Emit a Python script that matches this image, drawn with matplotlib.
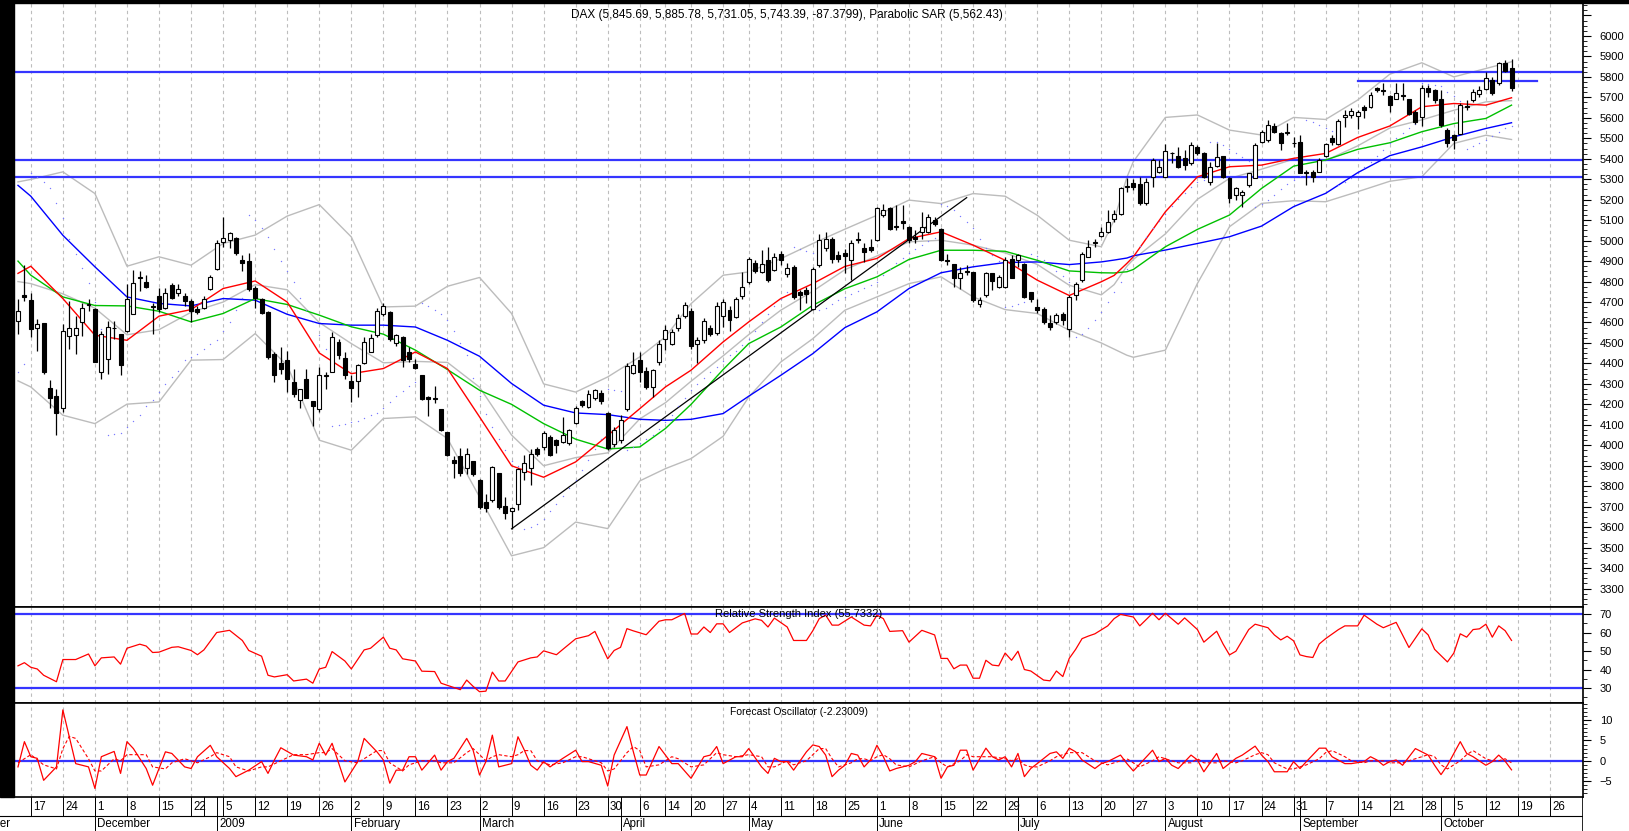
import matplotlib
matplotlib.use("Agg")
import matplotlib.pyplot as plt
from matplotlib.patches import Rectangle
from matplotlib.ticker import FixedLocator, MultipleLocator, FuncFormatter
import numpy as np
import pandas as pd

plt.rcParams["font.family"] = ["Liberation Sans", "DejaVu Sans"]

W, H = 1629, 831

# Xetra trading calendar, holidays are skipped on the chart
HOLIDAYS = ["2008-12-24", "2008-12-25", "2008-12-26", "2008-12-31", "2009-01-01",
            "2009-04-10", "2009-04-13", "2009-05-01"]

# daily DAX candles, 13 Nov 2008 .. 16 Oct 2009 (one row per week)
opens = [
    4608, 4733,
    4710, 4571, 4597, 4281, 4240,
    4181, 4536, 4539, 4600, 4684,
    4665, 4358, 4423, 4575, 4544,
    4560, 4640, 4815, 4797, 4683,
    4729, 4673, 4781, 4742, 4729,
    4705, 4665, 4673, 4765, 4862,
    4991, 5004, 5012, 4907, 4899,
    4770, 4713, 4649, 4447, 4403,
    4415, 4310, 4221, 4326, 4216,
    4177, 4339, 4358, 4506, 4426,
    4313, 4313, 4403, 4455, 4539,
    4640, 4649, 4500, 4527, 4458,
    4395, 4342, 4237, 4232, 4177,
    4064, 3930, 3946, 3890, 3922,
    3830, 3724, 3732, 3865, 3702,
    3680, 3715, 3870, 3891, 3983,
    3992, 4041, 4025, 4017, 4009,
    4110, 4217, 4185, 4229, 4256,
    4160, 4008, 4025, 4179, 4354,
    4415, 4362, 4285, 4407,
    4517, 4497, 4575, 4631,
    4657, 4497, 4513, 4575, 4549,
    4631, 4660, 4627, 4728,
    4798, 4891, 4847, 4904, 4855,
    4935, 4839, 4872, 4750, 4758,
    4668, 4880, 4962, 5010, 4929,
    4942, 4904, 5005, 4966, 4970,
    5002, 5124, 5157, 5070, 5097,
    5067, 5018, 5043, 5043, 5103,
    5059, 4906, 4888, 4818, 4850,
    4847, 4690, 4733, 4843, 4774,
    4774, 4908, 4904, 4888, 4750,
    4676, 4668, 4598, 4603, 4640,
    4570, 4733, 4807, 4921, 4990,
    5023, 5043, 5108, 5132, 5262,
    5283, 5276, 5182, 5312, 5337,
    5312, 5430, 5413, 5402, 5377,
    5459, 5426, 5288, 5364, 5413,
    5304, 5223, 5223, 5271, 5304,
    5483, 5491, 5560, 5524, 5525,
    5478, 5483, 5335, 5337, 5337,
    5413, 5500, 5472, 5605, 5614,
    5609, 5651, 5654, 5744, 5738,
    5705, 5694, 5713, 5694, 5629,
    5605, 5748, 5735, 5690, 5540,
    5515, 5523, 5660, 5686, 5716,
    5743, 5784, 5768, 5866, 5845.69,
]
highs = [
    4713, 4883,
    4742, 4616, 4597, 4318, 4277,
    4592, 4705, 4632, 4697, 4713,
    4673, 4560, 4608, 4608, 4544,
    4786, 4858, 4850, 4834, 4697,
    4770, 4770, 4794, 4786, 4745,
    4713, 4680, 4729, 4830, 5004,
    5117, 5044, 5020, 4931, 4939,
    4778, 4721, 4657, 4455, 4479,
    4463, 4374, 4277, 4374, 4216,
    4382, 4358, 4552, 4519, 4455,
    4342, 4398, 4527, 4544, 4673,
    4697, 4657, 4544, 4536, 4479,
    4423, 4342, 4242, 4290, 4177,
    4064, 3946, 3987, 3987, 3922,
    3834, 3764, 3898, 3865, 3748,
    3699, 3891, 3952, 3984, 3992,
    4069, 4049, 4033, 4139, 4082,
    4191, 4220, 4269, 4277, 4270,
    4165, 4090, 4150, 4400, 4457,
    4457, 4383, 4375, 4513,
    4587, 4570, 4640, 4700,
    4670, 4530, 4620, 4590, 4700,
    4717, 4680, 4725, 4847,
    4920, 4905, 4953, 4969, 4940,
    4950, 4890, 4880, 4758, 4775,
    4872, 5030, 5040, 5020, 4950,
    4960, 5002, 5043, 4986, 5010,
    5165, 5181, 5162, 5173, 5173,
    5070, 5051, 5141, 5130, 5116,
    5060, 4937, 4888, 4872, 4880,
    4847, 4725, 4848, 4843, 4830,
    4921, 4929, 4937, 4890, 4750,
    4717, 4676, 4636, 4644, 4650,
    4733, 4798, 4945, 5002, 5010,
    5067, 5149, 5149, 5263, 5304,
    5300, 5312, 5304, 5402, 5394,
    5472, 5434, 5459, 5443, 5483,
    5467, 5434, 5385, 5475, 5413,
    5312, 5263, 5247, 5329, 5475,
    5540, 5589, 5573, 5532, 5573,
    5508, 5516, 5345, 5345, 5402,
    5475, 5516, 5592, 5638, 5646,
    5638, 5662, 5727, 5752, 5768,
    5711, 5768, 5768, 5694, 5637,
    5760, 5760, 5743, 5735, 5548,
    5523, 5670, 5686, 5743, 5755,
    5825, 5800, 5874, 5882, 5885.78,
]
lows = [
    4544, 4705,
    4528, 4463, 4350, 4180, 4051,
    4164, 4471, 4447, 4536, 4657,
    4406, 4326, 4350, 4520, 4342,
    4552, 4640, 4753, 4770, 4544,
    4649, 4665, 4713, 4729, 4681,
    4600, 4640, 4665, 4760, 4858,
    4968, 4963, 4931, 4850, 4753,
    4673, 4640, 4423, 4310, 4350,
    4261, 4237, 4180, 4229, 4092,
    4164, 4277, 4358, 4423, 4326,
    4213, 4237, 4398, 4455, 4527,
    4632, 4511, 4487, 4382, 4406,
    4374, 4221, 4145, 4205, 4068,
    3946, 3842, 3850, 3858, 3850,
    3690, 3675, 3724, 3691, 3642,
    3590, 3686, 3829, 3805, 3947,
    3976, 3947, 3960, 4009, 4000,
    4106, 4188, 4180, 4220, 4204,
    3976, 3990, 4010, 4170, 4350,
    4310, 4277, 4236, 4390,
    4465, 4490, 4560, 4620,
    4470, 4400, 4500, 4535, 4540,
    4578, 4560, 4620, 4717,
    4790, 4840, 4840, 4800, 4850,
    4880, 4820, 4715, 4660, 4693,
    4660, 4870, 4950, 4890, 4895,
    4840, 4807, 4986, 4896, 4945,
    4999, 5116, 5051, 5051, 5059,
    4986, 4986, 5010, 5035, 5070,
    4900, 4880, 4774, 4766, 4831,
    4701, 4676, 4725, 4758, 4770,
    4770, 4815, 4872, 4720, 4701,
    4644, 4595, 4562, 4595, 4590,
    4530, 4709, 4798, 4921, 4970,
    5018, 5035, 5092, 5124, 5238,
    5245, 5174, 5174, 5263, 5329,
    5312, 5377, 5353, 5345, 5370,
    5418, 5304, 5272, 5361, 5304,
    5182, 5198, 5166, 5263, 5304,
    5475, 5483, 5524, 5443, 5516,
    5459, 5329, 5272, 5288, 5337,
    5410, 5467, 5467, 5557, 5597,
    5544, 5597, 5646, 5727, 5711,
    5630, 5690, 5686, 5613, 5572,
    5559, 5703, 5670, 5556, 5458,
    5450, 5523, 5637, 5678, 5703,
    5735, 5711, 5760, 5825, 5731.05,
]
closes = [
    4657, 4725,
    4568, 4592, 4358, 4232, 4156,
    4560, 4571, 4571, 4673, 4688,
    4406, 4544, 4579, 4571, 4394,
    4716, 4791, 4820, 4774, 4677,
    4665, 4742, 4721, 4765, 4705,
    4657, 4650, 4713, 4823, 4988,
    5012, 5036, 4942, 4891, 4762,
    4721, 4645, 4431, 4342, 4374,
    4326, 4253, 4277, 4229, 4193,
    4342, 4340, 4527, 4439, 4345,
    4281, 4390, 4506, 4523, 4657,
    4681, 4519, 4539, 4415, 4423,
    4377, 4226, 4226, 4226, 4076,
    3955, 3914, 3866, 3958, 3858,
    3700, 3696, 3895, 3699, 3667,
    3696, 3882, 3914, 3956, 3957,
    4061, 3952, 4000, 4049, 4077,
    4180, 4196, 4250, 4269, 4215,
    3989, 4074, 4122, 4386, 4391,
    4359, 4285, 4367, 4497,
    4565, 4554, 4624, 4684,
    4484, 4513, 4606, 4546, 4680,
    4701, 4611, 4717, 4774,
    4908, 4852, 4888, 4807, 4920,
    4905, 4864, 4725, 4733, 4741,
    4859, 5005, 5010, 4912, 4912,
    4926, 4986, 5010, 4945, 4953,
    5157, 5152, 5059, 5068, 5087,
    5005, 5010, 5067, 5116, 5080,
    4904, 4902, 4815, 4843, 4846,
    4709, 4710, 4843, 4803, 4823,
    4904, 4815, 4929, 4725, 4717,
    4660, 4603, 4579, 4636, 4612,
    4725, 4790, 4937, 4970, 4994,
    5043, 5092, 5128, 5255, 5268,
    5263, 5182, 5288, 5394, 5361,
    5439, 5426, 5361, 5369, 5467,
    5430, 5312, 5358, 5410, 5312,
    5206, 5255, 5239, 5329, 5467,
    5532, 5565, 5532, 5475, 5529,
    5476, 5332, 5329, 5312, 5394,
    5472, 5483, 5586, 5612, 5635,
    5630, 5640, 5711, 5738, 5730,
    5665, 5722, 5709, 5621, 5580,
    5748, 5727, 5686, 5564, 5475,
    5491, 5662, 5655, 5727, 5738,
    5797, 5722, 5866, 5831, 5743.39,
]

# Parabolic SAR dots, one per session (same weekly rows as the candles)
psar = [
    4359, 4396,
    5330, 5310, 5285, 5255, 5185,
    5110, 5010, 4935, 4865, 4793,
    4700, 4570, 4051, 4055, 4060,
    4090, 4120, 4147, 4190, 4223,
    4260, 4300, 4334, 4363, 4416,
    4430, 4448, 4470, 4494, 4513,
    4560, 4603, 4660, 4720, 5124,
    5100, 5060, 5020, 4960, 4900,
    4850, 4798, 4722, 4660, 4600,
    4540, 4470, 4092, 4100, 4105,
    4112, 4118, 4135, 4148, 4156,
    4180, 4210, 4240, 4265, 4290,
    4310, 4697, 4680, 4663, 4640,
    4611, 4560, 4500, 4440, 4330,
    4240, 4155, 4090, 4030, 3975,
    3925, 3900, 3590, 3600, 3615,
    3640, 3680, 3715, 3750, 3790,
    3830, 3880, 3930, 3980, 4030,
    4277, 4272, 4265, 3976, 3990,
    4010, 4030, 4050, 4080,
    4115, 4150, 4190, 4230,
    4270, 4300, 4330, 4360, 4385,
    4410, 4440, 4460, 4490,
    4520, 4560, 4600, 4640, 4680,
    4715, 4750, 4969, 4960, 4950,
    4940, 4660, 4670, 4690, 4710,
    4725, 4740, 4755, 4770, 4785,
    4800, 4830, 4860, 4890, 4915,
    4940, 4960, 4980, 5000, 5015,
    5181, 5170, 5150, 5120, 5090,
    5060, 5010, 4965, 4930, 4900,
    4676, 4680, 4690, 4700, 4937,
    4925, 4905, 4880, 4850, 4825,
    4800, 4530, 4545, 4575, 4610,
    4650, 4700, 4750, 4800, 4860,
    4920, 4975, 5020, 5060, 5095,
    5130, 5170, 5205, 5235, 5260,
    5285, 5295, 5483, 5480, 5465,
    5450, 5430, 5410, 5390, 5166,
    5180, 5200, 5225, 5250, 5275,
    5295, 5315, 5589, 5580, 5565,
    5550, 5535, 5272, 5285, 5305,
    5330, 5360, 5385, 5415, 5445,
    5475, 5500, 5525, 5550, 5570,
    5768, 5765, 5760, 5755, 5725,
    5705, 5680, 5450, 5460, 5475,
    5490, 5510, 5530, 5548, 5562.43,
]

# overlay lines at the start of each week
line_dates = ["2008-11-13", "2008-11-17", "2008-11-24", "2008-12-01", "2008-12-08",
              "2008-12-15", "2008-12-22", "2009-01-05", "2009-01-12", "2009-01-19",
              "2009-01-26", "2009-02-02", "2009-02-09", "2009-02-16", "2009-02-23",
              "2009-03-02", "2009-03-09", "2009-03-16", "2009-03-23", "2009-03-30",
              "2009-04-06", "2009-04-14", "2009-04-20", "2009-04-27", "2009-05-04",
              "2009-05-11", "2009-05-18", "2009-05-25", "2009-06-01", "2009-06-08",
              "2009-06-15", "2009-06-22", "2009-06-29", "2009-07-06", "2009-07-13",
              "2009-07-20", "2009-07-22", "2009-07-24", "2009-07-27", "2009-08-03",
              "2009-08-10", "2009-08-17", "2009-08-24", "2009-08-31", "2009-09-07",
              "2009-09-14", "2009-09-21", "2009-09-28", "2009-10-05", "2009-10-12",
              "2009-10-16"]
ma_blue = [5270, 5217, 5026, 4872, 4725, 4693, 4681, 4717, 4709, 4640,
           4595, 4587, 4587, 4578, 4513, 4435, 4302, 4196, 4158, 4150,
           4127, 4122, 4127, 4155, 4240, 4342, 4448, 4575, 4652, 4766,
           4843, 4872, 4893, 4896, 4883, 4896, 4905, 4915, 4926, 4954,
           4986, 5019, 5071, 5166, 5231, 5332, 5415, 5458, 5507, 5548, 5576]
ma_red = [4840, 4875, 4717, 4538, 4513, 4631, 4663, 4766, 4803, 4700,
          4451, 4350, 4375, 4456, 4375, 4139, 3900, 3844, 3919, 4048,
          4179, 4285, 4367, 4505, 4603, 4717, 4790, 4874, 4913, 5010,
          5043, 4978, 4904, 4807, 4732, 4799, 4830, 4889, 4921, 5141,
          5312, 5361, 5369, 5402, 5426, 5504, 5560, 5654, 5670, 5662, 5698]
ma_green = [4900, 4831, 4725, 4683, 4681, 4655, 4603, 4644, 4717, 4688,
            4636, 4579, 4543, 4465, 4370, 4269, 4200, 4106, 4030, 3982,
            3992, 4082, 4200, 4370, 4497, 4578, 4684, 4765, 4823, 4908,
            4953, 4953, 4948, 4904, 4852, 4843, 4842, 4848, 4859, 4970,
            5055, 5125, 5255, 5364, 5394, 5446, 5478, 5532, 5572, 5597, 5662]
bb_upper = [5287, 5299, 5336, 5230, 4875, 4921, 4880, 4986, 5027, 5120,
            5176, 5018, 4676, 4680, 4777, 4820, 4644, 4300, 4260, 4334,
            4432, 4530, 4692, 4831, 4847, 4912, 4986, 5056, 5124, 5198,
            5181, 5230, 5217, 5124, 5002, 4970, 5100, 5310, 5386, 5602,
            5614, 5540, 5516, 5602, 5592, 5687, 5813, 5869, 5800, 5841, 5874]
bb_middle = [4800, 4790, 4740, 4670, 4540, 4565, 4650, 4700, 4785, 4760,
             4600, 4497, 4403, 4410, 4405, 4284, 4050, 3900, 3940, 3963,
             4129, 4208, 4313, 4437, 4541, 4660, 4753, 4858, 4925, 4994,
             5002, 4978, 4940, 4884, 4782, 4735, 4785, 4875, 4908, 5033,
             5202, 5304, 5349, 5398, 5391, 5463, 5550, 5590, 5637, 5678, 5684]
bb_lower = [4315, 4285, 4147, 4106, 4201, 4212, 4416, 4419, 4546, 4390,
            4025, 3976, 4131, 4139, 4033, 3748, 3460, 3500, 3625, 3593,
            3826, 3886, 3935, 4044, 4236, 4407, 4521, 4660, 4725, 4790,
            4823, 4725, 4663, 4644, 4562, 4500, 4470, 4440, 4430, 4465,
            4791, 5068, 5182, 5195, 5190, 5239, 5290, 5312, 5475, 5515, 5494]

levels = [5822, 5392, 5312]
resistance = (["2009-09-14", "2009-10-22"], 5781)
trend = (["2009-03-09", "2009-06-19"], [3592, 5210])

# RSI and Forecast Oscillator: (trading session from 13 Nov, value) at the turning points
rsi_pts = [(0, 42.0), (1, 43.7), (2, 41.2), (3, 40.3), (4, 36.9), (6, 33.4), (7, 45.4), (9, 45.4),
           (11, 48.4), (12, 42.0), (13, 46.3), (15, 46.8), (16, 42.9), (17, 51.5), (19, 53.7),
           (20, 52.7), (21, 49.2), (22, 49.4), (24, 52.0), (25, 52.3), (27, 50.3), (28, 48.0),
           (29, 50.6), (31, 60.0), (33, 61.2), (35, 55.7), (36, 50.3), (38, 47.2), (39, 36.9),
           (40, 36.0), (42, 37.2), (43, 33.8), (45, 34.8), (46, 32.6), (47, 40.3), (48, 41.2),
           (49, 49.7), (51, 44.6), (52, 40.3), (54, 50.6), (55, 51.5), (57, 57.5), (58, 51.5),
           (59, 50.6), (60, 45.8), (62, 44.6), (63, 39.1), (65, 38.9), (66, 32.6), (68, 30.3),
           (69, 29.1), (70, 34.3), (71, 30.9), (72, 28.0), (73, 28.3), (74, 38.6), (75, 33.8),
           (76, 33.8), (78, 44.1), (80, 46.3), (81, 46.8), (82, 50.1), (84, 48.0), (85, 50.9),
           (87, 56.6), (89, 58.3), (90, 60.6), (92, 45.8), (93, 50.3), (94, 52.0), (95, 62.1),
           (96, 60.9), (98, 58.8), (100, 66.1), (101, 66.9), (102, 66.9), (104, 70.3),
           (105, 59.2), (106, 59.2), (107, 63.0), (108, 60.0), (109, 64.7), (110, 64.7),
           (111, 60.0), (113, 65.2), (115, 67.4), (116, 66.6), (117, 63.0), (118, 67.8),
           (120, 63.0), (121, 55.7), (123, 55.7), (124, 61.0), (125, 67.5), (126, 69.4),
           (127, 64.0), (128, 64.0), (130, 68.4), (132, 64.0), (133, 63.6), (134, 69.4),
           (135, 67.5), (136, 60.6), (138, 61.0), (139, 54.8), (141, 61.2), (143, 58.7),
           (144, 46.0), (145, 46.0), (146, 40.4), (147, 42.4), (148, 42.4), (149, 35.3),
           (150, 35.3), (151, 45.0), (152, 42.4), (153, 42.0), (154, 48.9), (155, 45.0),
           (156, 49.9), (157, 40.0), (158, 39.2), (160, 34.3), (161, 33.9), (162, 39.2),
           (163, 36.2), (164, 46.0), (165, 50.9), (166, 56.7), (167, 58.1), (168, 59.3),
           (170, 63.6), (171, 67.5), (172, 69.8), (174, 68.4), (175, 63.6), (177, 70.4),
           (178, 66.9), (179, 70.4), (181, 64.5), (182, 67.9), (184, 61.6), (185, 54.8),
           (187, 60.7), (188, 53.8), (189, 47.9), (190, 49.9), (192, 61.6), (193, 64.5),
           (195, 62.6), (196, 58.7), (197, 56.0), (198, 58.0), (199, 55.5), (200, 47.9),
           (201, 47.0), (202, 46.5), (203, 53.8), (204, 56.7), (206, 61.6), (207, 63.6),
           (209, 63.6), (210, 69.4), (212, 64.5), (213, 62.6), (215, 65.5), (216, 58.7),
           (217, 51.9), (219, 62.0), (220, 58.7), (221, 50.9), (223, 44.1), (224, 48.9),
           (225, 59.3), (226, 57.5), (227, 61.6), (228, 62.0), (229, 64.5), (230, 57.5),
           (231, 63.6), (232, 61.0), (233, 55.7332)]

fo_pts = [(0, -1.5), (1, 4.7), (2, 1.0), (3, 0.6), (4, -4.8), (6, -1.5), (7, 12.5), (8, 5.9),
          (9, -0.7), (11, -1.5), (12, -6.8), (13, 1.0), (15, 2.3), (16, -3.1), (17, 4.7),
          (18, 3.0), (20, -1.9), (21, -6.0), (23, 2.2), (24, 1.8), (26, -1.5), (27, -1.9),
          (28, 1.0), (30, 3.8), (31, 1.0), (33, -1.9), (34, -3.9), (36, -2.3), (38, -0.2),
          (39, -3.1), (40, 0.2), (41, 3.2), (43, 1.4), (45, 1.0), (46, 0.2), (47, 4.3),
          (48, 1.4), (49, 4.3), (51, -5.2), (53, -0.2), (54, 5.5), (56, 2.2), (57, 0.2),
          (58, -5.5), (59, -2.3), (60, -2.3), (61, 1.0), (62, 1.0), (63, -2.3), (65, 1.4),
          (66, -2.3), (67, -0.2), (68, 0.6), (70, 5.5), (71, 2.6), (72, -3.5), (73, -0.2),
          (74, 6.3), (75, -1.5), (77, -0.7), (78, 5.9), (79, 2.6), (80, -1.1), (81, -2.3),
          (82, -0.2), (83, -1.5), (85, 0.6), (87, 2.6), (88, -0.2), (89, -0.2), (91, -1.1),
          (92, -6.2), (93, 1.4), (95, 8.4), (96, 2.2), (97, -3.5), (98, -3.5), (100, 3.5),
          (102, -0.7), (103, -0.7), (105, -4.3), (107, 1.0), (108, 1.4), (109, 3.5),
          (110, -0.7), (112, 1.0), (113, 1.0), (114, 3.0), (116, -1.5), (117, -3.1),
          (118, 0.6), (119, -0.2), (120, -0.2), (121, -2.3), (123, 2.2), (124, 3.9),
          (125, 3.5), (126, 1.4), (127, -3.9), (128, -2.3), (129, -1.1), (130, 1.8),
          (131, 1.4), (132, -1.5), (133, 0.2), (134, 3.8), (135, 1.0), (136, -2.5),
          (137, -1.9), (139, -1.1), (140, -0.2), (141, 1.8), (143, 1.0), (144, -4.3),
          (145, -1.5), (146, -1.1), (147, 2.6), (148, 2.6), (149, -2.3), (151, 3.1),
          (152, 1.0), (153, 0.2), (154, 1.0), (155, -1.5), (156, 1.8), (157, -3.9),
          (158, -1.9), (159, -0.7), (161, 1.8), (162, 2.2), (163, 0.6), (164, 3.1),
          (165, 2.2), (166, 0.2), (168, -1.9), (169, -0.7), (170, -0.2), (172, 1.4),
          (173, -0.7), (174, -2.5), (177, 2.6), (178, -0.2), (179, 0.6), (180, -1.1),
          (181, -1.9), (183, 1.4), (184, 0.2), (185, -2.7), (187, 1.8), (188, -1.9),
          (190, 0.6), (191, 1.4), (193, 3.6), (194, 1.4), (195, -0.2), (196, -2.7),
          (198, -2.7), (199, -0.2), (200, -1.9), (201, -0.2), (203, 3.1), (204, 3.1),
          (205, 1.0), (207, -0.7), (208, -0.7), (210, -0.2), (211, 1.0), (212, 0.2),
          (213, -1.1), (214, -0.2), (215, 0.2), (216, -1.1), (218, 3.0), (220, 1.4),
          (221, -1.1), (222, -3.4), (223, -1.1), (225, 4.7), (226, 1.8), (227, 1.0),
          (229, -1.1), (230, -0.2), (231, 1.4), (232, -0.1), (233, -2.23009)]

fo_signal_pts = [(0, -0.5), (2, 1.5), (4, -1.0), (6, -2.0), (7, 3.0), (8, 6.0), (9, 5.5),
                 (11, 0.5), (12, -2.5), (13, -2.5), (15, 0.5), (16, 0.0), (17, 1.5), (18, 1.5),
                 (20, 1.5), (21, -1.5), (23, -2.0), (24, -0.5), (26, 0.5), (28, -0.5), (30, 1.0),
                 (31, 2.0), (33, 1.0), (34, -1.5), (36, -2.5), (38, -1.5), (39, -1.5), (41, 0.0),
                 (43, 1.5), (45, 1.5), (47, 2.0), (48, 2.0), (49, 3.0), (51, 0.0), (53, -0.5),
                 (54, 0.5), (56, 2.5), (57, 2.5), (58, -0.5), (60, -2.5), (61, -1.0), (63, 0.0),
                 (65, 0.0), (66, -0.5), (68, -0.5), (70, 2.0), (71, 3.0), (72, 1.5), (73, 0.0),
                 (74, 1.0), (75, 1.5), (77, 1.0), (78, 1.5), (79, 2.5), (80, 2.5), (81, 0.0),
                 (83, -1.0), (85, -0.5), (87, 1.0), (88, 1.0), (89, 0.5), (91, -0.5), (92, -2.5),
                 (93, -2.0), (95, 2.0), (96, 3.5), (97, 2.5), (98, -1.5), (100, -1.0), (102, 1.0),
                 (103, 0.5), (105, -1.5), (107, -1.0), (109, 2.0), (110, 1.5), (112, 1.0),
                 (114, 1.5), (116, 1.0), (117, -1.5), (118, -1.5), (120, 0.0), (121, -1.0),
                 (123, 0.0), (124, 1.5), (125, 3.0), (126, 3.0), (127, 0.5), (128, -1.5),
                 (130, -0.5), (131, 0.5), (132, 0.5), (133, 0.0), (134, 1.0), (135, 1.5),
                 (136, 0.5), (137, -1.0), (139, -1.5), (141, 0.0), (143, 1.0), (144, -0.5),
                 (145, -1.5), (147, 0.0), (148, 1.5), (149, 1.0), (151, 1.0), (152, 1.0),
                 (154, 0.5), (155, 0.0), (156, 0.5), (157, -1.0), (158, -1.5), (159, -1.5),
                 (161, 0.0), (162, 1.0), (164, 2.0), (165, 2.0), (166, 2.0), (168, 0.0),
                 (170, -1.0), (172, 0.0), (173, 0.5), (174, -0.5), (175, -1.5), (177, 0.0),
                 (178, 1.0), (180, 0.0), (181, -0.5), (183, -0.5), (184, 0.5), (185, -0.5),
                 (187, -0.5), (188, 0.0), (190, -0.5), (191, 0.0), (193, 1.5), (194, 2.0),
                 (195, 1.5), (196, -0.5), (198, -2.0), (199, -2.0), (201, -1.0), (203, 0.5),
                 (204, 2.0), (205, 2.5), (207, 1.0), (208, 0.0), (210, -0.5), (211, 0.0),
                 (213, 0.0), (214, -0.5), (216, -0.5), (218, 0.5), (220, 1.5), (221, 1.0),
                 (222, -1.0), (223, -2.0), (225, 0.0), (226, 1.5), (227, 2.5), (229, 0.5),
                 (230, 0.0), (231, 0.0), (232, 0.5), (233, -0.5)]

title = "DAX (5,845.69, 5,885.78, 5,731.05, 5,743.39, -87.3799), Parabolic SAR (5,562.43)"
rsi_title = "Relative Strength Index (55.7332)"
fo_title = "Forecast Oscillator (-2.23009)"

# ---------------------------------------------------------------- calendar
cal = pd.bdate_range("2008-11-13", "2009-10-30")
cal = cal[~cal.isin(pd.to_datetime(HOLIDAYS))]
session = pd.Series(np.arange(len(cal)), index=cal)


def at(dates):
    return session[pd.to_datetime(dates)].to_numpy()


week_start = [i for i in range(1, len(cal)) if cal[i].weekday() < cal[i - 1].weekday()]
month_start = [i for i in range(1, len(cal)) if cal[i].month != cal[i - 1].month]
no_grid = set(at(["2008-12-29"]))

# ---------------------------------------------------------------- layout (pixel boxes)
PX0, PXDAY = 18.0, 6.41  # first candle pixel, pixels per session


def px_rect(x0, y0, x1, y1):
    return [x0 / W, 1 - y1 / H, (x1 - x0) / W, (y1 - y0) / H]


def xl(x0, x1):
    return ((x0 - PX0) / PXDAY, (x1 - PX0) / PXDAY)


fig = plt.figure(figsize=(W / 100, H / 100), dpi=100)
ax = fig.add_axes(px_rect(14, 3, 1583, 607))
ax_rsi = fig.add_axes(px_rect(14, 607, 1583, 703))
ax_fo = fig.add_axes(px_rect(14, 703, 1583, 797))
ax_dt = fig.add_axes(px_rect(0, 797, 1583, 831))

fig.add_artist(Rectangle((0, 1 - 797 / H), 14 / W, 797 / H, transform=fig.transFigure,
                         color="black", zorder=10))
fig.add_artist(Rectangle((0, 1 - 3 / H), 1, 3 / H, transform=fig.transFigure,
                         color="black", zorder=10))

GRID = dict(color="#bdbdbd", lw=0.8, ls=(0, (3, 3)), zorder=0)
BLUE_LVL = dict(color="#3535ff", lw=1.6, zorder=2)
FS = 8

for a in (ax, ax_rsi, ax_fo):
    a.set_xlim(*xl(14, 1583))
    for i in week_start:
        if i not in no_grid:
            a.axvline(i, **GRID)
    a.yaxis.tick_right()
    a.tick_params(axis="y", which="major", direction="out", length=6, width=0.8,
                  pad=6, labelsize=FS, colors="black")
    a.tick_params(axis="y", which="minor", direction="out", length=3, width=0.6)
    a.tick_params(axis="x", which="both", bottom=False, labelbottom=False)
    a.spines["left"].set_visible(False)
    for s in ("top", "bottom", "right"):
        a.spines[s].set_linewidth(1.2)

# ---------------------------------------------------------------- price panel
x = np.arange(len(closes))
o, hi, lo, c = (np.array(v, dtype=float) for v in (opens, highs, lows, closes))
up = c >= o

lx = at(line_dates)
for band in (bb_upper, bb_middle, bb_lower):
    ax.plot(lx, band, color="#bcbcbc", lw=1.0, zorder=1)
ax.plot(lx, ma_blue, color="#0000ff", lw=1.0, zorder=3)
ax.plot(lx, ma_green, color="#00c000", lw=1.0, zorder=3)
ax.plot(lx, ma_red, color="#ff0000", lw=1.0, zorder=3)

for lv in levels:
    ax.axhline(lv, **BLUE_LVL)
ax.plot(at(resistance[0]), [resistance[1]] * 2, **BLUE_LVL)
ax.plot(at(trend[0]), trend[1], color="black", lw=0.9, zorder=3)

ax.scatter(x, psar, s=1.0, color="#7a7aff", linewidths=0, zorder=3)

ax.vlines(x, lo, hi, color="black", lw=0.9, zorder=4)
body_lo = np.minimum(o, c)
body_h = np.maximum(np.abs(c - o), 3)
ax.bar(x[up], body_h[up], bottom=body_lo[up], width=0.62, facecolor="white",
       edgecolor="black", lw=0.8, zorder=5)
ax.bar(x[~up], body_h[~up], bottom=body_lo[~up], width=0.62, facecolor="black",
       edgecolor="black", lw=0.8, zorder=5)

ax.set_ylim(3210, 6161)
ax.yaxis.set_major_locator(FixedLocator(np.arange(3300, 6101, 100)))
ax.yaxis.set_minor_locator(MultipleLocator(25))
ax.yaxis.set_major_formatter(FuncFormatter(lambda v, p: "" if v > 6050 else f"{v:.0f}"))
fig.text(787 / W, 1 - 15 / H, title, ha="center", va="center", fontsize=8.5)

# ---------------------------------------------------------------- RSI panel
rd, rv = zip(*rsi_pts)
ax_rsi.plot(rd, rv, color="#ff0000", lw=0.9, zorder=3)
ax_rsi.axhline(70, **BLUE_LVL)
ax_rsi.axhline(30, **BLUE_LVL)
ax_rsi.set_ylim(21.9, 73.8)
ax_rsi.yaxis.set_major_locator(FixedLocator([30, 40, 50, 60, 70]))
ax_rsi.yaxis.set_minor_locator(MultipleLocator(5))
ax_rsi.text(0.5, 1 - 7 / 96, rsi_title, transform=ax_rsi.transAxes, ha="center",
            va="center", fontsize=8, zorder=6)

# ---------------------------------------------------------------- Forecast oscillator
fd, fv = zip(*fo_pts)
sd, sv = zip(*fo_signal_pts)
ax_fo.plot(fd, fv, color="#ff0000", lw=0.9, zorder=3)
ax_fo.plot(sd, sv, color="#ff0000", lw=0.8, ls=(0, (3, 2)), zorder=3)
ax_fo.axhline(0, **BLUE_LVL)
ax_fo.set_ylim(-8.9, 14.2)
ax_fo.yaxis.set_major_locator(FixedLocator([-5, 0, 5, 10]))
ax_fo.yaxis.set_minor_locator(MultipleLocator(1))
ax_fo.text(0.5, 1 - 9 / 94, fo_title, transform=ax_fo.transAxes, ha="center",
           va="center", fontsize=7.5, zorder=6)

# ---------------------------------------------------------------- date axis
ax_dt.set_xlim(*xl(0, 1583))
ax_dt.set_ylim(0, 1)
ax_dt.axis("off")
ROW = 0.44
ax_dt.axhline(ROW, color="black", lw=0.8)
ax_dt.axvline(xl(0, 1583)[1], color="black", lw=1.2)
for i in week_start:
    ax_dt.plot([i, i], [ROW, 1], color="black", lw=0.7)
    if i in no_grid:
        continue
    ax_dt.text(i + 0.35, (1 + ROW) / 2, str(cal[i].day), ha="left", va="center", fontsize=8.3)
for i in month_start:
    ax_dt.plot([i, i], [0, 1], color="black", lw=0.7)
    name = "2009" if cal[i].month == 1 else cal[i].strftime("%B")
    ax_dt.text(i + 0.35, ROW / 2, name, ha="left", va="center", fontsize=8.3)
ax_dt.text((10 - PX0) / PXDAY, ROW / 2, "November", ha="right", va="center",
           fontsize=8.3, clip_on=True)

fig.savefig("out.png", dpi=100, facecolor="white")
